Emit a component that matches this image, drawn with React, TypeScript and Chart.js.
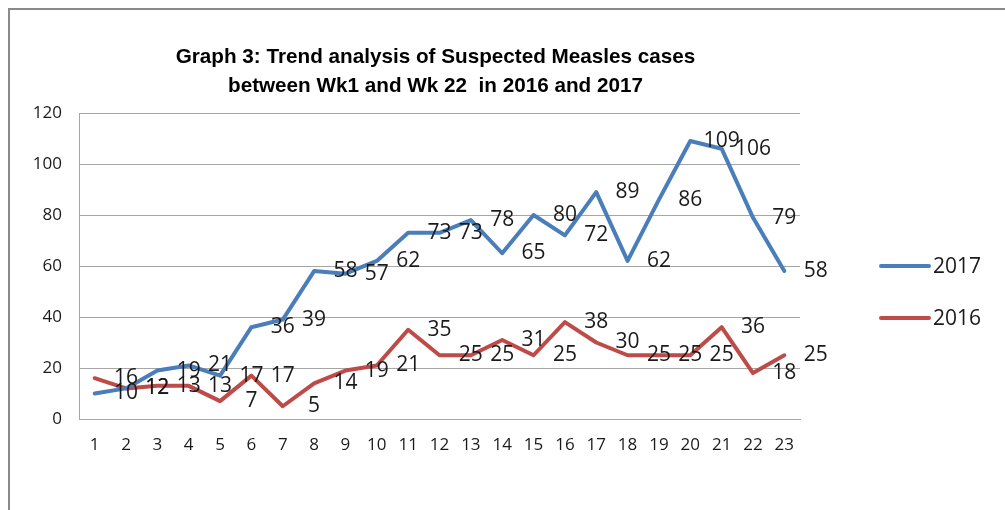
import React, { useEffect, useRef } from "react";
import { Chart, registerables } from "chart.js";

Chart.register(...registerables);

const weeks = ["1","2","3","4","5","6","7","8","9","10","11","12","13","14","15","16","17","18","19","20","21","22","23"];
const cases2017 = [10, 12, 19, 21, 17, 36, 39, 58, 57, 62, 73, 73, 78, 65, 80, 72, 89, 62, 86, 109, 106, 79, 58];
const cases2016 = [16, 12, 13, 13, 7, 17, 5, 14, 19, 21, 35, 25, 25, 31, 25, 38, 30, 25, 25, 25, 36, 18, 25];
const seriesNames = ["2017", "2016"];
const seriesColors = ["#4A7EBB", "#BE4B48"];
const yMin = 0;
const yMax = 120;
const yStep = 20;
const titleLines = [
  "Graph 3: Trend analysis of Suspected Measles cases",
  "between Wk1 and Wk 22  in 2016 and 2017",
];

const FONT = "'Open Sans', 'Liberation Sans', sans-serif";

const titlePlugin = {
  id: "customTitle",
  afterDraw(chart: any) {
    const { ctx, chartArea } = chart;
    ctx.save();
    ctx.fillStyle = "#000";
    ctx.font = "bold 21px 'Liberation Sans', sans-serif";
    ctx.textAlign = "center";
    ctx.textBaseline = "alphabetic";
    const cx = (chartArea.left + chartArea.right) / 2 - 4;
    ctx.translate(cx, 0);
    ctx.scale(0.985, 1);
    ctx.fillText(titleLines[0], 0, chartArea.top - 50);
    ctx.fillText(titleLines[1], 0, chartArea.top - 21);
    ctx.restore();
  },
};

const shiftedLabelPlugin = {
  id: "shiftedLabels",
  afterDatasetsDraw(chart: any) {
    const { ctx, scales } = chart;
    const xs = scales.x;
    const ys = scales.y;
    ctx.save();
    ctx.fillStyle = "#1a1a1a";
    ctx.font = `21px ${FONT}`;
    ctx.textAlign = "center";
    ctx.textBaseline = "middle";
    chart.data.datasets.forEach((ds: any) => {
      ds.data.forEach((v: number, i: number) => {
        const x = xs.getPixelForValue(i + 1);
        const y = ys.getPixelForValue(v);
        ctx.fillText(String(v), x, y);
      });
    });
    ctx.restore();
  },
};

const legendPlugin = {
  id: "customLegend",
  afterDraw(chart: any) {
    const { ctx, chartArea } = chart;
    ctx.save();
    ctx.font = `21px ${FONT}`;
    ctx.textBaseline = "middle";
    ctx.textAlign = "left";
    const x0 = chartArea.right + 81;
    chart.data.datasets.forEach((ds: any, i: number) => {
      const y = chartArea.top + 153 + i * 52;
      ctx.strokeStyle = ds.borderColor;
      ctx.lineWidth = 4;
      ctx.lineCap = "round";
      ctx.beginPath();
      ctx.moveTo(x0, y);
      ctx.lineTo(x0 + 48, y);
      ctx.stroke();
      ctx.fillStyle = "#1a1a1a";
      ctx.fillText(ds.label, x0 + 52, y + 1);
    });
    ctx.restore();
  },
};

export default function App() {
  const ref = useRef<HTMLCanvasElement | null>(null);

  useEffect(() => {
    document.body.style.margin = "0";
    const canvas = ref.current;
    if (!canvas) return;
    const chart = new Chart(canvas, {
      type: "line",
      data: {
        labels: weeks,
        datasets: [
          {
            label: seriesNames[0],
            data: cases2017,
            borderColor: seriesColors[0],
            backgroundColor: seriesColors[0],
            borderWidth: 4,
            pointRadius: 0,
            tension: 0,
            borderJoinStyle: "round",
            borderCapStyle: "round",
          },
          {
            label: seriesNames[1],
            data: cases2016,
            borderColor: seriesColors[1],
            backgroundColor: seriesColors[1],
            borderWidth: 4,
            pointRadius: 0,
            tension: 0,
            borderJoinStyle: "round",
            borderCapStyle: "round",
          },
        ],
      },
      options: {
        animation: false,
        responsive: false,
        devicePixelRatio: 1,
        layout: { padding: { top: 113, right: 205, bottom: 0, left: 0 } },
        plugins: {
          legend: { display: false },
          title: { display: false },
          tooltip: { enabled: false },
        },
        scales: {
          x: {
            offset: true,
            grid: { display: false, drawTicks: false },
            border: { display: true, color: "#a6a6a6", width: 1 },
            ticks: {
              color: "#1a1a1a",
              font: { family: FONT, size: 17 },
              padding: 16,
              maxRotation: 0,
              autoSkip: false,
            },
            afterFit: (scale: any) => {
              scale.height = 91;
            },
          },
          y: {
            min: yMin,
            max: yMax,
            grid: { color: "#a6a6a6", lineWidth: 1, drawTicks: false },
            border: { display: true, color: "#a6a6a6", width: 1 },
            ticks: {
              stepSize: yStep,
              color: "#1a1a1a",
              font: { family: FONT, size: 17 },
              padding: 17,
            },
            afterFit: (scale: any) => {
              scale.width = 79;
            },
          },
        },
      },
      plugins: [titlePlugin, shiftedLabelPlugin, legendPlugin],
    });
    return () => chart.destroy();
  }, []);

  return (
    <div style={{ position: "relative", width: 1005, height: 510, overflow: "hidden", background: "#fff" }}>
      <canvas ref={ref} width={1005} height={510} style={{ position: "absolute", left: 0, top: 0, width: 1005, height: 510 }} />
      <div
        style={{
          position: "absolute",
          left: 8,
          top: 8,
          width: 1100,
          height: 600,
          borderLeft: "2px solid #8a8a8a",
          borderTop: "2px solid #8a8a8a",
          pointerEvents: "none",
        }}
      />
    </div>
  );
}
